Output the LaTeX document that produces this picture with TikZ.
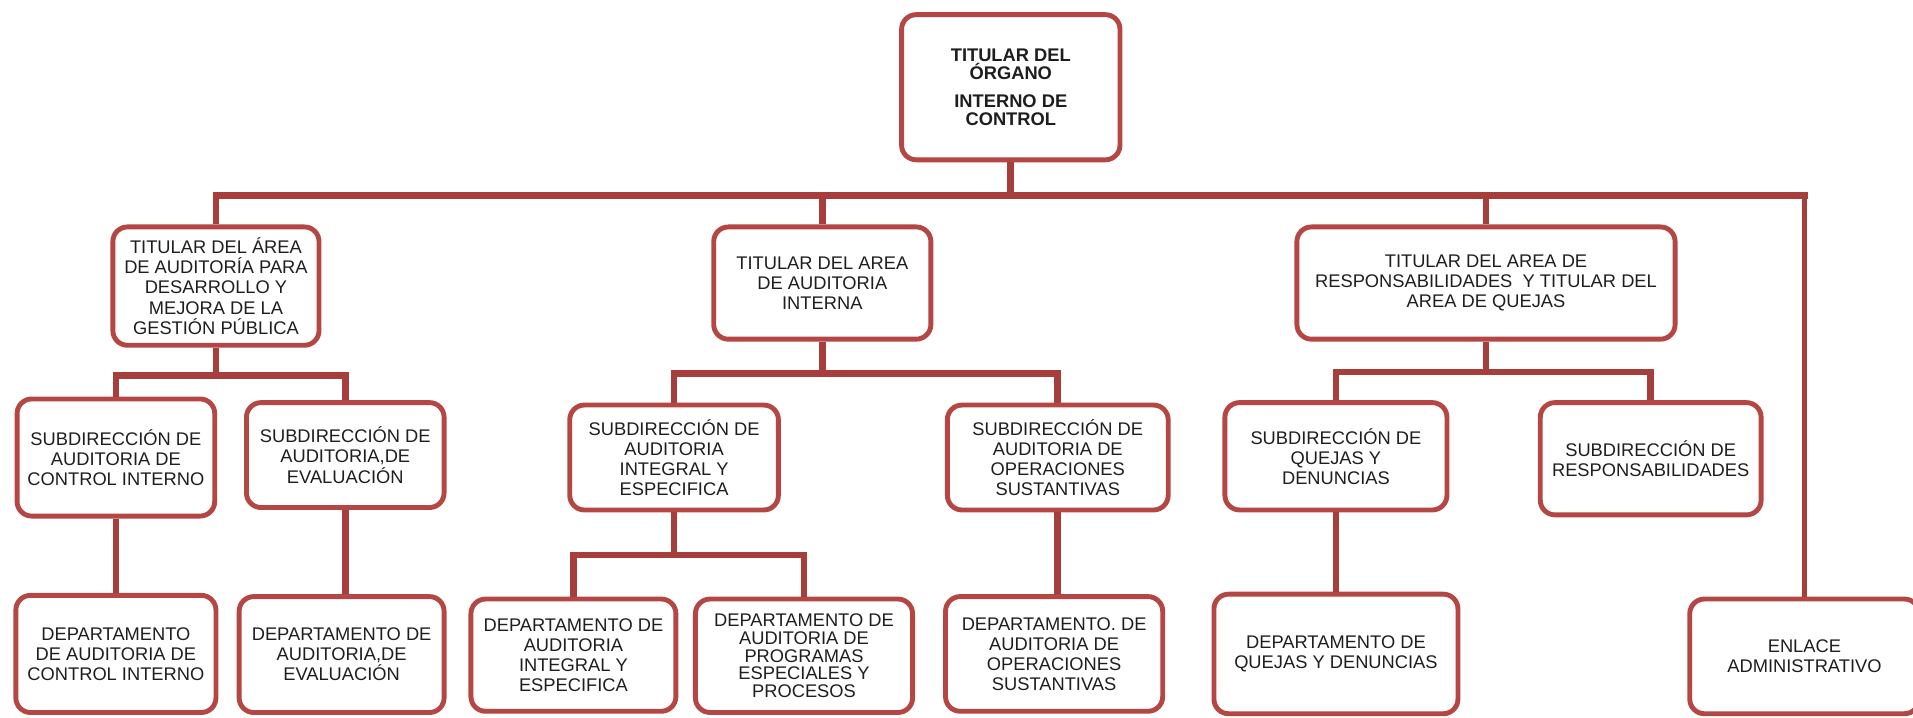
\documentclass[tikz,border=0pt]{standalone}
\usepackage{fontspec}
\setmainfont{Liberation Sans}
\definecolor{boxred}{RGB}{180,70,68}
\definecolor{linered}{RGB}{166,62,60}
\definecolor{txt}{RGB}{30,30,30}
\begin{document}
\begin{tikzpicture}[x=1pt,y=-1pt,
  box/.style={draw=boxred, line width=4pt, rounded corners=12pt, fill=white,
    align=center, inner sep=0pt, text=txt, font=\fontsize{15}{16.5}\selectfont},
  conn/.style={draw=linered, line width=5.5pt},
  connthin/.style={draw=linered, line width=4pt}]
\useasboundingbox (0,0) rectangle (1568,588.5);

% boxes
\node[box, font=\bfseries\fontsize{15}{15}\selectfont, minimum width=179pt, minimum height=119pt] (top) at (828.5,71.5)
  {TITULAR DEL\\ÓRGANO\\[8pt]INTERNO DE\\CONTROL};

\node[box, minimum width=169pt, minimum height=97pt] (A) at (177,234.5)
  {TITULAR DEL ÁREA\\DE AUDITORÍA PARA\\DESARROLLO Y\\MEJORA DE LA\\GESTIÓN PÚBLICA};
\node[box, minimum width=178pt, minimum height=92pt] (B) at (674,232)
  {TITULAR DEL AREA\\DE AUDITORIA\\INTERNA};
\node[box, minimum width=310pt, minimum height=92pt] (C) at (1218,232)
  {TITULAR DEL AREA DE\\RESPONSABILIDADES \ Y TITULAR DEL\\AREA DE QUEJAS};

\node[box, minimum width=162pt, minimum height=96pt] (A1) at (95,375)
  {SUBDIRECCIÓN DE\\AUDITORIA DE\\CONTROL INTERNO};
\node[box, minimum width=162pt, minimum height=86pt] (A2) at (283,373)
  {SUBDIRECCIÓN DE\\AUDITORIA,DE\\EVALUACIÓN};
\node[box, minimum width=171pt, minimum height=86pt] (B1) at (552.5,375)
  {SUBDIRECCIÓN DE\\AUDITORIA\\INTEGRAL Y\\ESPECIFICA};
\node[box, minimum width=181pt, minimum height=86pt] (B2) at (867,375)
  {SUBDIRECCIÓN DE\\AUDITORIA DE\\OPERACIONES\\SUSTANTIVAS};
\node[box, minimum width=182pt, minimum height=88pt] (C1) at (1095,374)
  {SUBDIRECCIÓN DE\\QUEJAS Y\\DENUNCIAS};
\node[box, minimum width=181pt, minimum height=92pt] (C2) at (1353,376)
  {SUBDIRECCIÓN DE\\RESPONSABILIDADES};

\node[box, minimum width=164pt, minimum height=96pt] (A1d) at (95,536)
  {DEPARTAMENTO\\DE AUDITORIA DE\\CONTROL INTERNO};
\node[box, minimum width=168pt, minimum height=95pt] (A2d) at (280,536.5)
  {DEPARTAMENTO DE\\AUDITORIA,DE\\EVALUACIÓN};
\node[box, minimum width=168pt, minimum height=92pt] (B1a) at (470,537)
  {DEPARTAMENTO DE\\AUDITORIA\\INTEGRAL Y\\ESPECIFICA};
\node[box, font=\fontsize{15}{14.5}\selectfont, minimum width=178pt, minimum height=93pt] (B1b) at (659,537.5)
  {DEPARTAMENTO DE\\AUDITORIA DE\\PROGRAMAS\\ESPECIALES Y\\PROCESOS};
\node[box, minimum width=178pt, minimum height=94pt] (B2d) at (864,536)
  {DEPARTAMENTO. DE\\AUDITORIA DE\\OPERACIONES\\SUSTANTIVAS};
\node[box, minimum width=200pt, minimum height=98pt] (C1d) at (1095,536)
  {DEPARTAMENTO DE\\QUEJAS Y DENUNCIAS};
\node[box, minimum width=188pt, minimum height=94pt] (E) at (1479,538)
  {ENLACE\\ADMINISTRATIVO};

% connectors
\draw[connthin] (E.north) -- (E.north |- 0,160.5);
\draw[conn, line cap=rect] (E.north |- 0,160.5) -- (C.north |- 0,160.5);
\draw[conn] (top.south) -- ++(0,27) -| (A.north);
\draw[conn] (top.south) -- ++(0,27) -| (B.north);
\draw[conn] (top.south) -- ++(0,27) -| (C.north);

\draw[conn] (A.south) -- ++(0,23) -| (A1.north);
\draw[conn] (A.south) -- ++(0,23) -| (A2.north);
\draw[conn] (B.south) -- ++(0,26) -| (B1.north);
\draw[conn] (B.south) -- ++(0,26) -| (B2.north);
\draw[conn] (C.south) -- ++(0,25) -| (C1.north);
\draw[conn] (C.south) -- ++(0,25) -| (C2.north);

\draw[conn] (A1.south) -- (A1.south |- A1d.north);
\draw[conn] (A2.south) -- (A2.south |- A2d.north);
\draw[conn] (B1.south) -- ++(0,35) -| (B1a.north);
\draw[conn] (B1.south) -- ++(0,35) -| (B1b.north);
\draw[conn] (B2.south) -- (B2.south |- B2d.north);
\draw[conn] (C1.south) -- (C1.south |- C1d.north);
\end{tikzpicture}
\end{document}
